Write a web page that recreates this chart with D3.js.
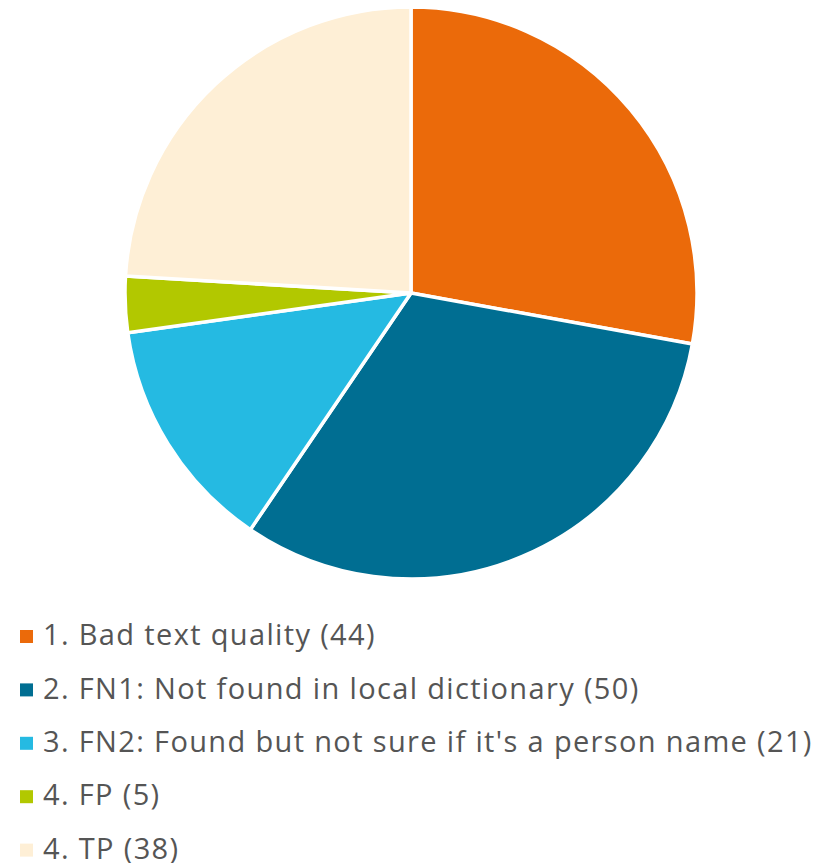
<!DOCTYPE html>
<html><head><meta charset="utf-8">
<script src="https://cdn.jsdelivr.net/npm/d3@7"></script>
<style>body{margin:0;background:#fff}</style>
</head><body>
<svg id="c" width="833" height="863"></svg>
<script>
const categories = ["1. Bad text quality", "2. FN1: Not found in local dictionary", "3. FN2: Found but not sure if it's a person name", "4. FP", "4. TP"];
const values = [44, 50, 21, 5, 38];
const colors = ["#EB6A0A", "#006E92", "#25BAE2", "#B2C800", "#FEEFD6"];

const svg = d3.select("#c");
const cx = 411, cy = 293, r = 286;
const pie = d3.pie().sort(null).value(d => d.v);
const data = categories.map((c, i) => ({c, v: values[i], col: colors[i]}));
const arc = d3.arc().innerRadius(0).outerRadius(r);
svg.append("g").attr("transform", `translate(${cx},${cy})`)
  .selectAll("path").data(pie(data)).join("path")
  .attr("d", arc).attr("fill", d => d.data.col)
  .attr("stroke", "#fff").attr("stroke-width", 3.5).attr("stroke-linejoin", "round");

const leg = svg.append("g");
const rows = leg.selectAll("g").data(data).join("g")
  .attr("transform", (d, i) => `translate(20,${636.5 + i * 53.4})`);
rows.append("rect").attr("x", 0).attr("y", -6.5).attr("width", 13).attr("height", 13).attr("fill", d => d.col);
rows.append("text").attr("x", 23).attr("y", -1.5).attr("dy", "0.35em")
  .attr("font-family", "'Open Sans', sans-serif").attr("font-size", 29)
  .attr("letter-spacing", 1.35).attr("fill", "#555")
  .text(d => `${d.c} (${d.v})`);
</script>
</body></html>
